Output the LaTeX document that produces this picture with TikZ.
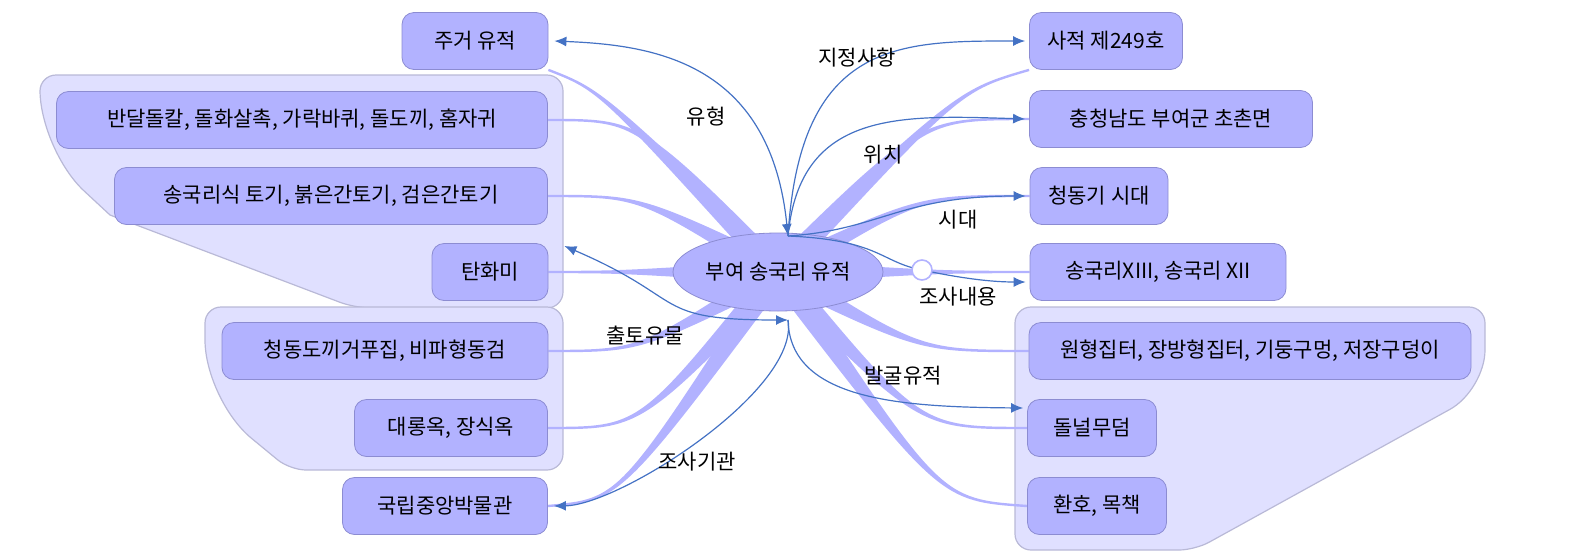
\documentclass[tikz,border=0pt]{standalone}
\usepackage{fontspec}
\newfontfamily\kr{Noto Sans CJK KR}
\usetikzlibrary{calc,arrows.meta,shapes.geometric}
\definecolor{bx}{RGB}{178,178,255}
\definecolor{bd}{RGB}{140,140,210}
\definecolor{gp}{RGB}{224,224,255}
\definecolor{gpb}{RGB}{185,185,215}
\definecolor{ar}{RGB}{68,114,196}
\begin{document}
\begin{tikzpicture}[x=0.5pt,y=-0.5pt,>={Latex[length=6pt,width=5pt]},
  box/.style={rounded corners=6pt,draw=bd,fill=bx,minimum height=28.5pt,inner sep=0pt,font=\kr\fontsize{10.5}{12}\selectfont},
  lab/.style={font=\kr\fontsize{10.5}{12}\selectfont,inner sep=1pt},
  grp/.style={fill=gp,draw=gpb,line width=0.6pt,rounded corners=8pt},
  tap/.style={fill=bx,draw=bx,line width=1.2pt},
  arr/.style={draw=ar,line width=0.6pt,->},
  arr2/.style={draw=ar,line width=0.6pt,<->}]
\useasboundingbox (0,0) rectangle (1569,558);
\newcommand\taper[2]{\path[tap] (#1) .. controls (#2) .. ($(C)!5pt!90:(#2)$) -- ($(C)!5pt!-90:(#2)$) .. controls (#2) .. cycle;}
% groups
\path[grp] (40,75) -- (563,75) -- (563,308) -- (355,308) [sharp corners]-- (110,215) [rounded corners=30pt]-- (40,150) [rounded corners=8pt]-- cycle;
\path[grp] (205,307) -- (563,307) -- (563,470) -- (290,470) [rounded corners=30pt]-- (205,400) [rounded corners=8pt]-- cycle;
\path[grp] (1015,307) -- (1485,307) [rounded corners=20pt]-- (1485,390) [rounded corners=8pt]-- (1195,550) -- (1015,550) -- cycle;
\coordinate (C) at (778,272);
% node anchors (invisible placement)
\begin{scope}[box/.append style={draw=none,fill=none,text opacity=0}]
\node[box,minimum width=73pt] (n1) at (475,41) {주};
\node[box,minimum width=245.5pt] (n2) at (302,120) {반};
\node[box,minimum width=216.5pt] (n3) at (331,196) {송};
\node[box,minimum width=58pt] (n4) at (490,272) {탄};
\node[box,minimum width=163pt] (n5) at (385,351) {청};
\node[box,minimum width=96.5pt] (n6) at (451,428) {대};
\node[box,minimum width=102.5pt] (n7) at (445,506) {국};
\node[box,minimum width=76.5pt] (m1) at (1106,41) {사};
\node[box,minimum width=141.5pt] (m2) at (1171,119) {충};
\node[box,minimum width=69pt] (m3) at (1099,196) {청};
\node[box,minimum width=128pt] (m4) at (1158,272) {송};
\node[box,minimum width=221pt] (m5) at (1250,351) {원};
\node[box,minimum width=64.5pt] (m6) at (1092,428) {돌};
\node[box,minimum width=69.5pt] (m7) at (1097,506) {환};
\end{scope}
% thick connectors
\taper{n1.south east}{600,90}
\taper{n2.east}{640,120}
\taper{n3.east}{640,196}
\taper{n4.east}{620,272}
\taper{n5.east}{640,351}
\taper{n6.east}{640,428}
\taper{n7.east}{620,500}
\taper{m1.south west}{960,90}
\taper{m2.west}{920,119}
\taper{m3.west}{920,196}
\taper{m4.west}{940,272}
\taper{m5.west}{920,351}
\taper{m6.west}{920,428}
\taper{m7.west}{940,500}
% boxes
\node[box,minimum width=73pt] at (n1) {주거 유적};
\node[box,minimum width=245.5pt] at (n2) {반달돌칼, 돌화살촉, 가락바퀴, 돌도끼, 홈자귀};
\node[box,minimum width=216.5pt] at (n3) {송국리식 토기, 붉은간토기, 검은간토기};
\node[box,minimum width=58pt] at (n4) {탄화미};
\node[box,minimum width=163pt] at (n5) {청동도끼거푸집, 비파형동검};
\node[box,minimum width=96.5pt] at (n6) {대롱옥, 장식옥};
\node[box,minimum width=102.5pt] at (n7) {국립중앙박물관};
\node[box,minimum width=76.5pt] at (m1) {사적 제249호};
\node[box,minimum width=141.5pt] at (m2) {충청남도 부여군 초촌면};
\node[box,minimum width=69pt] at (m3) {청동기 시대};
\node[box,minimum width=128pt] at (m4) {송국리XIII, 송국리 XII};
\node[box,minimum width=221pt] at (m5) {원형집터, 장방형집터, 기둥구멍, 저장구덩이};
\node[box,minimum width=64.5pt] at (m6) {돌널무덤};
\node[box,minimum width=69.5pt] at (m7) {환호, 목책};
\node[draw=bd,fill=bx,ellipse,minimum width=105pt,minimum height=39pt,inner sep=0pt,font=\kr\fontsize{10.5}{12}\selectfont] (c) at (C) {부여 송국리 유적};
% thin arrows
\coordinate (T) at (788,236);
\coordinate (B) at (788,320);
\coordinate (K) at (922,270);
\draw[arr2] (T) .. controls (770,60) and (650,45) .. ([xshift=3pt]n1.east);
\draw[arr] (T) .. controls (800,40) and (900,41) .. ([xshift=-2pt]m1.west);
\draw[arr] (T) .. controls (800,110) and (900,115) .. ([xshift=-2pt]m2.west);
\draw[arr] (T) .. controls (880,230) and (900,196) .. ([xshift=-2pt]m3.west);
\draw[draw=ar,line width=0.6pt] (T) .. controls (880,240) and (880,262) .. (K);
\draw[arr] (K) .. controls (960,278) and (990,282) .. ([xshift=-2pt,yshift=-5pt]m4.west);
\draw[bx,fill=white,line width=0.8pt] (K) circle (5pt);
\draw[arr2] ([xshift=8pt,yshift=13pt]n4.east) .. controls (690,300) and (650,320) .. (B);
\draw[arr] (B) .. controls (800,390) and (620,505) .. ([xshift=3pt]n7.east);
\draw[arr] (B) .. controls (790,400) and (900,407) .. ([xshift=-2pt,yshift=10pt]m6.west);
% labels
\node[lab] at (706,117) {유형};
\node[lab] at (857,58) {지정사항};
\node[lab] at (883,155) {위치};
\node[lab] at (958,220) {시대};
\node[lab] at (958,297) {조사내용};
\node[lab] at (645,336) {출토유물};
\node[lab] at (697,462) {조사기관};
\node[lab] at (903,376) {발굴유적};
\end{tikzpicture}
\end{document}
